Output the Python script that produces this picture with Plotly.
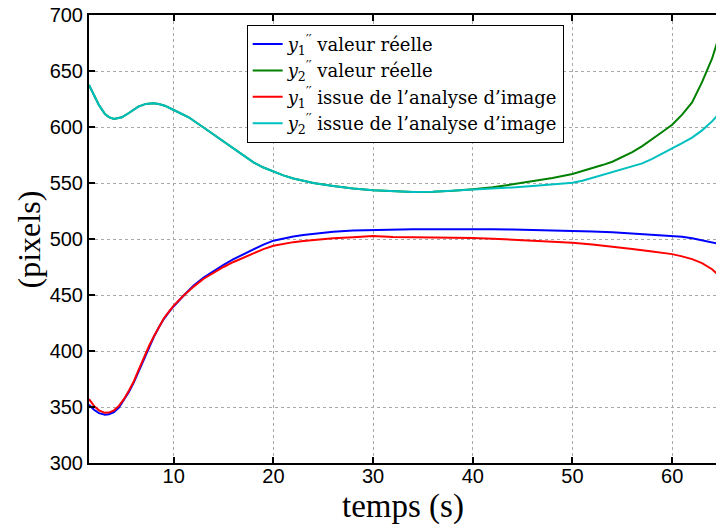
import plotly.graph_objects as go

# time samples (s)
t_y2 = [1.5, 2.0, 2.5, 3.1, 3.5, 4.0, 4.8, 5.5, 6.45, 7.2, 7.96, 8.5, 9.1, 10, 11.5, 13.1, 14.8, 16.5,
        17.5, 18, 19, 20, 21, 22, 24, 26, 28, 30, 32, 34, 36, 38, 40, 42, 44, 46, 48, 50, 51, 52, 53, 54, 55,
        56, 57, 58, 59, 60, 61, 62, 63, 64, 64.5]
# y2'' true value (green)
y2_true = [637.5, 628, 619.5, 611.5, 608.8, 607.2, 608.7, 612.5, 618.2, 620.6, 621.2, 620.6, 619, 615.2, 608.7,
           598.9, 588.5, 578, 571.5, 568.5, 563.8, 560, 556.8, 554, 550, 547.3, 545, 543.5, 542.5, 542, 542.2, 543,
           544.5, 546.3, 548.8, 551.5, 554.5, 558, 560.5, 563, 566, 569, 573, 577.5, 583, 589, 595.5,
           602, 611, 622, 640, 661, 675]
# y2'' from image analysis (cyan)
y2_img = [637.5, 628, 619.5, 611.5, 608.8, 607.2, 608.7, 612.5, 618.2, 620.6, 621.2, 620.6, 619, 615.2, 608.7,
          598.9, 588.5, 578, 571.5, 568.5, 563.8, 560, 556.8, 554, 550, 547.3, 545, 543.5, 542.5, 542, 542.2, 543,
          543.8, 544.8, 546, 547.3, 548.6, 550.2, 552, 554.5, 557, 559.5, 562, 564.5, 567.5, 571.5, 576,
          581, 585.5, 590.5, 597, 605, 610]

t_y1 = [1.5, 2.0, 2.5, 3.1, 3.5, 4.0, 4.5, 5.0, 5.5, 6.0, 6.5, 7.0, 7.5, 8.0, 8.5, 9.0, 9.5, 10, 11, 12,
        13, 14, 15, 16, 17, 18, 19, 20, 21, 22, 23, 24, 26, 28, 30, 32, 34, 36, 38, 40, 42, 44, 46, 48, 50,
        52, 54, 56, 58, 60, 61, 62, 63, 64, 64.5]
# y1'' true value (blue)
y1_true = [352, 347.5, 344.5, 343.2, 343.6, 345.5, 349.5, 356, 363.5, 372, 382.5, 393, 403, 412.5, 421,
           428.5, 434.5, 440, 449.5, 458.5, 465.5, 471.5, 477, 482, 486.5, 490.5, 495, 498.5, 500.6, 502.3,
           503.6, 504.7, 506.4, 507.5, 508, 508.4, 508.6, 508.8, 508.9, 508.8, 508.7, 508.5, 508.2, 507.9,
           507.5, 506.8, 506, 505, 504, 503, 502, 500.6, 499, 497.2, 496]
# y1'' from image analysis (red)
y1_img = [357, 351, 347, 344.8, 345, 347, 351, 357, 364.5, 373, 383.5, 394, 404, 413, 421.5, 429,
          435, 440.5, 449.5, 457.5, 464.5, 470, 475, 479.5, 483.5, 487.5, 491, 494, 495.9, 497.2, 498.3,
          499.2, 500.6, 501.6, 502.6, 501.7, 501.6, 501.4, 501.2, 501, 500.3, 499.5, 498.8, 498, 496.7,
          495.1, 493.3, 491, 488.8, 486.5, 484.5, 482, 478.5, 473, 469]

series = [
    ("<i>y</i><sub>1</sub><sup>′′</sup> valeur réelle", t_y1, y1_true, "#0000FF"),
    ("<i>y</i><sub>2</sub><sup>′′</sup> valeur réelle", t_y2, y2_true, "#008000"),
    ("<i>y</i><sub>1</sub><sup>′′</sup> issue de l’analyse d’image", t_y1, y1_img, "#FF0000"),
    ("<i>y</i><sub>2</sub><sup>′′</sup> issue de l’analyse d’image", t_y2, y2_img, "#00BFBF"),
]

x_ticks = [10, 20, 30, 40, 50, 60]
y_ticks = [300, 350, 400, 450, 500, 550, 600, 650, 700]

fig = go.Figure()
for name, tx, ty, col in series:
    fig.add_trace(go.Scatter(x=tx, y=ty, name=name, mode="lines",
                             line=dict(color=col, width=2)))

axis_common = dict(showline=True, linecolor="black", linewidth=2, ticks="inside", ticklen=6,
                   tickwidth=1.5, tickcolor="black", showgrid=True, gridcolor="#a8a8a8",
                   griddash="dot", gridwidth=1, zeroline=False, automargin=False,
                   tickfont=dict(family="Liberation Sans", size=20, color="black"))

fig.update_layout(
    width=716, height=524,
    margin=dict(l=89, r=0, t=15, b=61),
    paper_bgcolor="white", plot_bgcolor="white",
    xaxis=dict(range=[1.5, 64.4], tickvals=x_ticks, mirror="ticks", ticklabelstandoff=-6,
               **axis_common),
    yaxis=dict(range=[300, 700], tickvals=y_ticks, mirror=False, **axis_common),
    legend=dict(x=0.2515, y=0.978, xanchor="left", yanchor="top", bgcolor="white",
                bordercolor="black", borderwidth=1, itemwidth=30,
                font=dict(family="DejaVu Serif", size=18, color="black"), tracegroupgap=0),
    showlegend=True,
    annotations=[
        dict(text="temps (s)", xref="paper", yref="paper", x=0.5, y=-0.098,
             xanchor="center", yanchor="middle", showarrow=False,
             font=dict(family="Liberation Serif", size=33, color="black")),
        dict(text="(pixels)", xref="paper", yref="paper", x=-0.095, y=0.5, textangle=-90,
             xanchor="center", yanchor="middle", showarrow=False,
             font=dict(family="Liberation Serif", size=32, color="black")),
    ],
)

fig.write_html("out.html", config={"displayModeBar": False},
               post_script="document.body.style.margin='0px';")
